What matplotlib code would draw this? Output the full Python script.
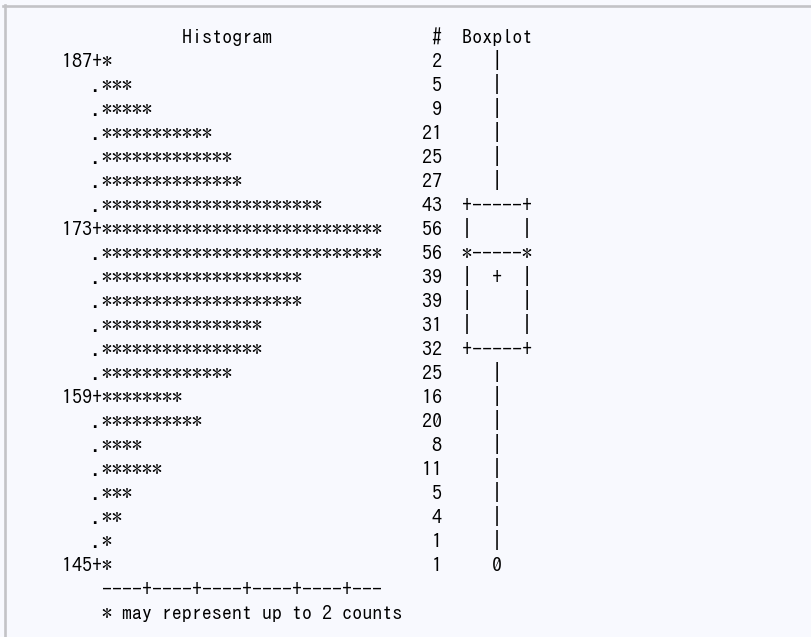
import matplotlib
matplotlib.use("Agg")
import matplotlib.pyplot as plt
from matplotlib.lines import Line2D

# histogram bins, from the top bin down (bin width 2)
bin_top = 187
bin_width = 2
counts = [2, 5, 9, 21, 25, 27, 43, 56, 56, 39, 39, 31, 32, 25, 16, 20, 8, 11, 5, 4, 1, 1]
tick_labels = [187, 173, 159, 145]
per_star = 2

# boxplot summary (same scale as the bins)
whisker_hi = 187
q3 = 175
median = 171
mean = 169
q1 = 163
whisker_lo = 147
outliers = [145]

bg = "#f8f9fe"
fig = plt.figure(figsize=(8.11, 6.37), dpi=100, facecolor=bg)
ax = fig.add_axes([0, 0, 1, 1])
ax.set_facecolor(bg)
ax.set_xlim(-6.2, 74.9)
ax.set_ylim(23.708, -2.833)
ax.axis("off")

font = dict(family=["IPAGothic", "DejaVu Sans Mono"], fontsize=14.4, color="#000000")


def row_of(v):
    return int(round((bin_top - v) / bin_width))


def box_cell(r):
    if r in [row_of(o) for o in outliers]:
        return "   0"
    if r == row_of(q3) or r == row_of(q1):
        return "+-----+"
    if r == row_of(median):
        return "*-----*"
    if r == row_of(mean):
        return "|  +  |"
    if row_of(q3) < r < row_of(q1):
        return "|     |"
    if row_of(whisker_hi) <= r <= row_of(whisker_lo):
        return "   |"
    return ""


lines = []
lines.append((-1, " " * 12 + "Histogram" + " " * 16 + "#" + "  " + "Boxplot"))
for r, c in enumerate(counts):
    v = bin_top - r * bin_width
    if v in tick_labels:
        lab = f"{v:>3}+"
    else:
        lab = "   ."
    stars = "*" * int(c / per_star + 0.5)
    lines.append((r, lab + f"{stars:<32}" + f"{c:>2}" + "  " + box_cell(r)))

n = len(counts)
lines.append((n, "    " + "----+" * 5 + "---"))
lines.append((n + 1, "    " + f"* may represent up to {per_star} counts"))

for r, s in lines:
    ax.text(0, r, s, ha="left", va="baseline", **font)

# panel frame (left and top edges only show)
fig.add_artist(Line2D([4.5 / 811, 4.5 / 811], [0, 1 - 5 / 637], transform=fig.transFigure,
                      color="#c3c3c6", lw=1.9))
fig.add_artist(Line2D([3.5 / 811, 1], [1 - 6 / 637, 1 - 6 / 637], transform=fig.transFigure,
                      color="#c3c3c6", lw=1.9))

fig.savefig("out.png", dpi=100, facecolor=bg)
